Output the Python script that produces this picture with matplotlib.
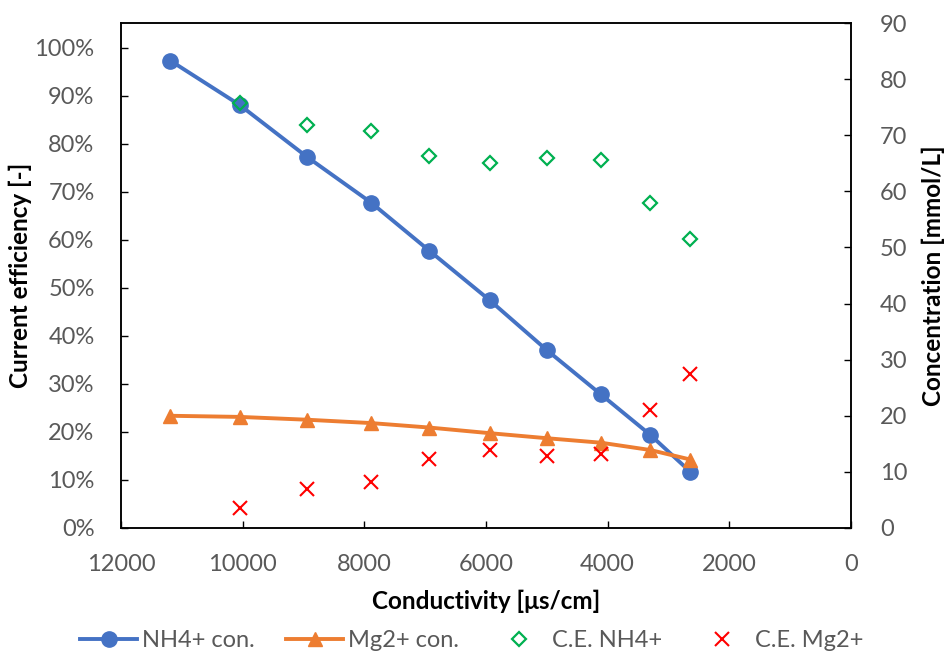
import numpy as np
import matplotlib.pyplot as plt
from matplotlib.ticker import PercentFormatter

plt.rcParams['font.family'] = ['Lato', 'DejaVu Sans']

# conductivity of each sample [us/cm]
conductivity = [11190, 10050, 8950, 7890, 6930, 5940, 5000, 4110, 3300, 2640]

# concentrations [mmol/L]
nh4_conc = [83.3, 75.4, 66.2, 58.0, 49.4, 40.6, 31.7, 23.8, 16.6, 10.0]
mg_conc = [20.0, 19.8, 19.3, 18.7, 17.9, 16.9, 16.0, 15.2, 13.9, 12.2]

# current efficiencies (first sample has none)
ce_nh4 = [0.885, 0.840, 0.828, 0.774, 0.761, 0.771, 0.766, 0.677, 0.602]
ce_mg = [0.042, 0.082, 0.095, 0.144, 0.162, 0.150, 0.155, 0.246, 0.320]

blue = '#4472C4'
orange = '#ED7D31'
green = '#00B050'
red = '#FF0000'
grey = '#595959'

fig = plt.figure(figsize=(9.44, 6.54), dpi=100)
ax = fig.add_axes([121 / 944, 126 / 654, 730 / 944, 505 / 654])
ax2 = ax.twinx()
# efficiency markers sit on top of the concentration lines
ax.set_zorder(ax2.get_zorder() + 1)
ax.patch.set_visible(False)

l1, = ax2.plot(conductivity, nh4_conc, color=blue, lw=2.8, marker='o', ms=11,
               label='NH4+ con.')
l2, = ax2.plot(conductivity, mg_conc, color=orange, lw=2.8, marker='^', ms=10,
               label='Mg2+ con.')
l3, = ax.plot(conductivity[1:], ce_nh4, ls='none', marker='D', ms=7.5,
              mfc='none', mec=green, mew=1.6, label='C.E. NH4+')
l4, = ax.plot(conductivity[1:], ce_mg, ls='none', marker='x', ms=10,
              mec=red, mew=1.5, label='C.E. Mg2+')

ax.set_xlim(12000, 0)
ax.set_ylim(0, 1.052)
ax2.set_ylim(0, 90)
ax.set_xticks(np.arange(12000, -1, -2000))
ax.set_yticks(np.arange(0, 1.01, 0.1))
ax.yaxis.set_major_formatter(PercentFormatter(1.0, decimals=0))
ax2.set_yticks(np.arange(0, 91, 10))

for a in (ax, ax2):
    a.tick_params(direction='in', length=5, width=1, labelsize=17,
                  labelcolor=grey)
    for s in a.spines.values():
        s.set_linewidth(1.1)
ax.tick_params(axis='x', pad=19)
ax.tick_params(axis='y', pad=19)
ax2.tick_params(axis='y', pad=21)

ax.set_xlabel('Conductivity [μs/cm]', fontsize=17.5, fontweight='bold')
ax.set_ylabel('Current efficiency [-]', fontsize=17.5, fontweight='bold')
ax2.set_ylabel('Concentration [mmol/L]', fontsize=17.5, fontweight='bold')
ax.xaxis.set_label_coords(0.5, -0.122)
ax.yaxis.set_label_coords(-0.122, 0.5)
ax2.yaxis.set_label_coords(1.097, 0.5)

fig.legend(handles=[l1, l2, l3, l4], loc='center', ncol=4,
           bbox_to_anchor=(0.5, 0.02), frameon=False, fontsize=17,
           labelcolor=grey, handlelength=2.4, columnspacing=1.35, handletextpad=0.2)

fig.savefig('out.png', dpi=100)
